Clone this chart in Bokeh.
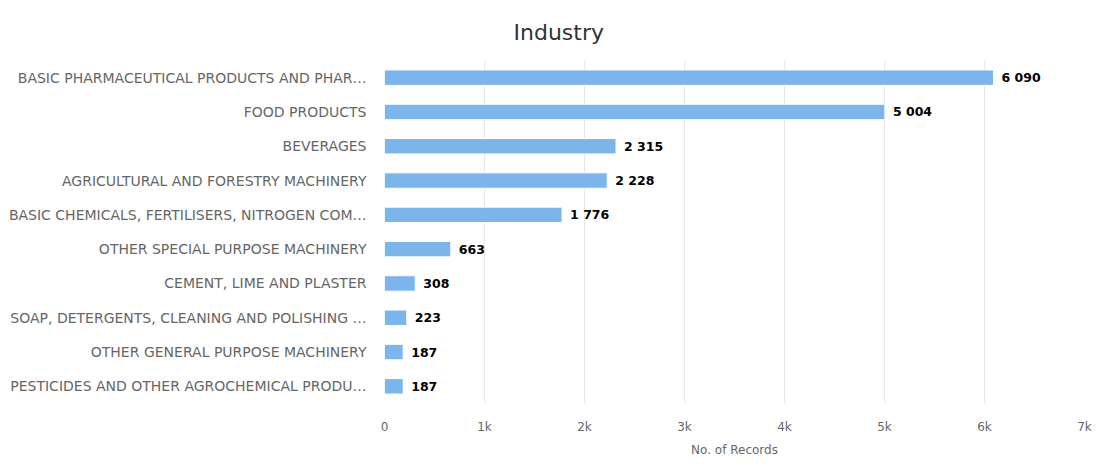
from bokeh.plotting import figure
from bokeh.models import Range1d, FactorRange, ColumnDataSource, FixedTicker, CustomJSTickFormatter
from bokeh.core.properties import value
from bokeh.embed import file_html
from bokeh.resources import INLINE

title_text = "Industry"
categories = [
    "BASIC PHARMACEUTICAL PRODUCTS AND PHAR…",
    "FOOD PRODUCTS",
    "BEVERAGES",
    "AGRICULTURAL AND FORESTRY MACHINERY",
    "BASIC CHEMICALS, FERTILISERS, NITROGEN COM…",
    "OTHER SPECIAL PURPOSE MACHINERY",
    "CEMENT, LIME AND PLASTER",
    "SOAP, DETERGENTS, CLEANING AND POLISHING …",
    "OTHER GENERAL PURPOSE MACHINERY",
    "PESTICIDES AND OTHER AGROCHEMICAL PRODU…",
]
records = [6090, 5004, 2315, 2228, 1776, 663, 308, 223, 187, 187]
x_ticks = [0, 1000, 2000, 3000, 4000, 5000, 6000, 7000]

FONT = "DejaVu Sans"

labels = [f"{v:,}".replace(",", " ") for v in records]
src = ColumnDataSource(dict(cat=categories, val=records, lab=labels))

p = figure(
    width=1094, height=459,
    x_range=Range1d(0, 7000),
    y_range=FactorRange(*reversed(categories)),
    output_backend="svg", toolbar_location=None,
    title=title_text,
    min_border_left=384, min_border_right=10,
    min_border_top=60, min_border_bottom=47,
)
p.outline_line_color = None
p.background_fill_color = "white"

p.title.align = "left"
p.title.offset = 129
p.title.standoff = 32
p.title.text_font = FONT
p.title.text_font_size = "22px"
p.title.text_font_style = "normal"
p.title.text_color = "#333333"

p.hbar(y="cat", right="val", left=0, height=0.45, source=src,
       fill_color="#7cb5ec", line_color="white", line_width=1)

p.text(x="val", y="cat", text="lab", source=src, x_offset=8,
       text_baseline="middle", text_align="left",
       text_font=value(FONT), text_font_size="12.5px",
       text_font_style="bold", text_color="#000000")

# grid
p.ygrid.grid_line_color = None
p.xgrid.grid_line_color = "#e6e6e6"
p.xgrid.ticker = FixedTicker(ticks=x_ticks)

# x axis
xa = p.xaxis[0]
xa.ticker = FixedTicker(ticks=x_ticks)
xa.formatter = CustomJSTickFormatter(code="return tick == 0 ? '0' : (tick/1000) + 'k';")
xa.axis_line_color = None
xa.major_tick_line_color = None
xa.minor_tick_line_color = None
xa.major_label_text_font = FONT
xa.major_label_text_font_size = "12px"
xa.major_label_text_color = "#666666"
xa.major_label_standoff = 10
xa.axis_label = "No. of Records"
xa.axis_label_text_font = FONT
xa.axis_label_text_font_size = "12px"
xa.axis_label_text_font_style = "normal"
xa.axis_label_text_color = "#666666"
xa.axis_label_standoff = 6

# y axis
ya = p.yaxis[0]
ya.axis_line_color = None
ya.major_tick_line_color = None
ya.minor_tick_line_color = None
ya.major_label_text_font = FONT
ya.major_label_text_font_size = "14px"
ya.major_label_text_color = "#666666"
ya.major_label_standoff = 12

open("out.html", "w").write(file_html(p, INLINE))
